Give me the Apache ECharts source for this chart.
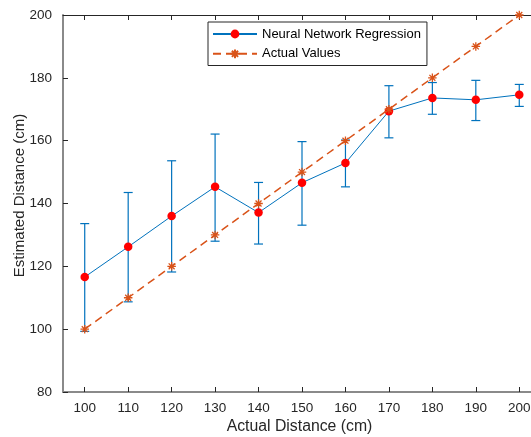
<!DOCTYPE html>
<html>
<head>
<meta charset="utf-8">
<script src="https://cdn.jsdelivr.net/npm/echarts@6/dist/echarts.min.js"></script>
<style>
html,body{margin:0;padding:0;background:#fff;}
#chart{width:531px;height:437px;}
</style>
</head>
<body>
<div id="chart"></div>
<script>
// ---- data ----
const distances = [100, 110, 120, 130, 140, 150, 160, 170, 180, 190, 200];
const nnMean  = [116.6, 126.2, 136.0, 145.3, 137.1, 146.6, 152.9, 169.4, 173.6, 173.0, 174.6];
const nnUpper = [133.6, 143.5, 153.6, 162.1, 146.7, 159.7, 160.2, 177.5, 178.5, 179.2, 177.9];
const nnLower = [99.3, 108.7, 118.2, 128.0, 127.1, 133.1, 145.3, 160.9, 168.4, 166.4, 170.9];
const actualValues = [100, 110, 120, 130, 140, 150, 160, 170, 180, 190, 200];
const xTicks = [100, 110, 120, 130, 140, 150, 160, 170, 180, 190, 200];
const yTicks = [80, 100, 120, 140, 160, 180, 200];
const seriesNames = ['Neural Network Regression', 'Actual Values'];
const xTitle = 'Actual Distance (cm)';
const yTitle = 'Estimated Distance (cm)';

// ---- styling ----
const FONT = '"Liberation Sans", Arial, Helvetica, sans-serif';
const TXT = '#262626';
const BLUE = '#0072BD';
const ORANGE = '#D95319';
const RED = '#FF0000';
const ASTERISK = 'path://M5,0L5,10M0,5L10,5M1.5,1.5L8.5,8.5M1.5,8.5L8.5,1.5';

const chart = echarts.init(document.getElementById('chart'), null, {renderer: 'canvas'});

const errData = distances.map((d, i) => [d, nnLower[i], nnUpper[i]]);

const legendLeft = 208, legendTop = 22, padL = 4, padT = 5.5, iconW = 44, iconH = 11;
const iconCx = legendLeft + padL + iconW / 2;
const iconCy = legendTop + padT + iconH / 2;

const option = {
  animation: false,
  backgroundColor: '#fff',
  textStyle: {fontFamily: FONT, color: TXT},
  grid: {left: 63, right: -10, top: 15, bottom: 45, containLabel: false, outerBoundsMode: 'none'},
  legend: {
    orient: 'vertical',
    left: legendLeft, top: legendTop,
    padding: [padT, 6, 4.8, padL],
    itemWidth: iconW, itemHeight: iconH, itemGap: 6.4,
    borderColor: TXT, borderWidth: 1, borderRadius: 0,
    backgroundColor: '#fff',
    textStyle: {fontFamily: FONT, fontSize: 13, color: '#000'},
    data: seriesNames,
    z: 10
  },
  xAxis: [{
    type: 'value', min: 95, max: 205,
    name: xTitle, nameLocation: 'middle', nameGap: 27, nameMoveOverlap: false,
    nameTextStyle: {fontFamily: FONT, fontSize: 15.8, color: TXT, padding: [0, 5, 0, 0]},
    axisLine: {show: true, lineStyle: {color: '#8a8a8a', width: 2}},
    axisTick: {show: true, inside: true, length: 5, lineStyle: {color: TXT, width: 1}, customValues: xTicks},
    axisLabel: {fontFamily: FONT, fontSize: 13.5, color: TXT, margin: 9, customValues: xTicks},
    splitLine: {show: false}
  }, {
    type: 'value', min: 95, max: 205, position: 'top',
    axisLine: {show: true, onZero: false, lineStyle: {color: TXT, width: 1}},
    axisTick: {show: true, inside: true, length: 5, lineStyle: {color: TXT, width: 1}, customValues: xTicks},
    axisLabel: {show: false},
    splitLine: {show: false}
  }],
  yAxis: {
    type: 'value', min: 80, max: 200, interval: 20,
    name: yTitle, nameLocation: 'middle', nameGap: 36, nameRotate: 90, nameMoveOverlap: false,
    nameTextStyle: {fontFamily: FONT, fontSize: 15, color: TXT, padding: [0, 0, 0, 16]},
    axisLine: {show: true, lineStyle: {color: '#8a8a8a', width: 2}},
    axisTick: {show: true, inside: true, length: 5, lineStyle: {color: TXT, width: 1}},
    axisLabel: {fontFamily: FONT, fontSize: 13.5, color: TXT, margin: 11},
    splitLine: {show: false}
  },
  series: [{
    name: 'errbars',
    type: 'custom',
    xAxisIndex: 0,
    data: errData,
    renderItem: function (params, api) {
      const x = api.value(0);
      const lo = api.coord([x, api.value(1)]);
      const hi = api.coord([x, api.value(2)]);
      const hw = 4.5;
      const st = {stroke: BLUE, lineWidth: 1.2, fill: null};
      return {
        type: 'group',
        children: [
          {type: 'line', shape: {x1: lo[0], y1: lo[1], x2: hi[0], y2: hi[1]}, style: st},
          {type: 'line', shape: {x1: lo[0] - hw, y1: lo[1], x2: lo[0] + hw, y2: lo[1]}, style: st},
          {type: 'line', shape: {x1: hi[0] - hw, y1: hi[1], x2: hi[0] + hw, y2: hi[1]}, style: st}
        ]
      };
    },
    z: 2
  }, {
    name: seriesNames[0],
    type: 'line',
    data: distances.map((d, i) => [d, nnMean[i]]),
    lineStyle: {color: BLUE, width: 1},
    symbol: 'circle', symbolSize: 8.5,
    itemStyle: {color: RED, borderColor: RED, borderWidth: 0},
    z: 3
  }, {
    name: seriesNames[1],
    type: 'line',
    data: distances.map((d, i) => [d, actualValues[i]]),
    lineStyle: {color: ORANGE, width: 1.5, type: [8, 5]},
    symbol: ASTERISK, symbolSize: 8.5,
    itemStyle: {color: 'none', borderColor: ORANGE, borderWidth: 1.3},
    z: 4
  }],
  graphic: [{
    type: 'group',
    z: 100,
    children: [
      {type: 'line', shape: {x1: iconCx, y1: iconCy - 7, x2: iconCx, y2: iconCy + 7}, style: {stroke: BLUE, lineWidth: 1.2}},
      {type: 'line', shape: {x1: iconCx - 5, y1: iconCy - 7, x2: iconCx + 5, y2: iconCy - 7}, style: {stroke: BLUE, lineWidth: 1.2}},
      {type: 'line', shape: {x1: iconCx - 5, y1: iconCy + 7, x2: iconCx + 5, y2: iconCy + 7}, style: {stroke: BLUE, lineWidth: 1.2}},
      {type: 'circle', shape: {cx: iconCx, cy: iconCy, r: 4.3}, style: {fill: RED}}
    ]
  }]
};
chart.setOption(option);
</script>
</body>
</html>
